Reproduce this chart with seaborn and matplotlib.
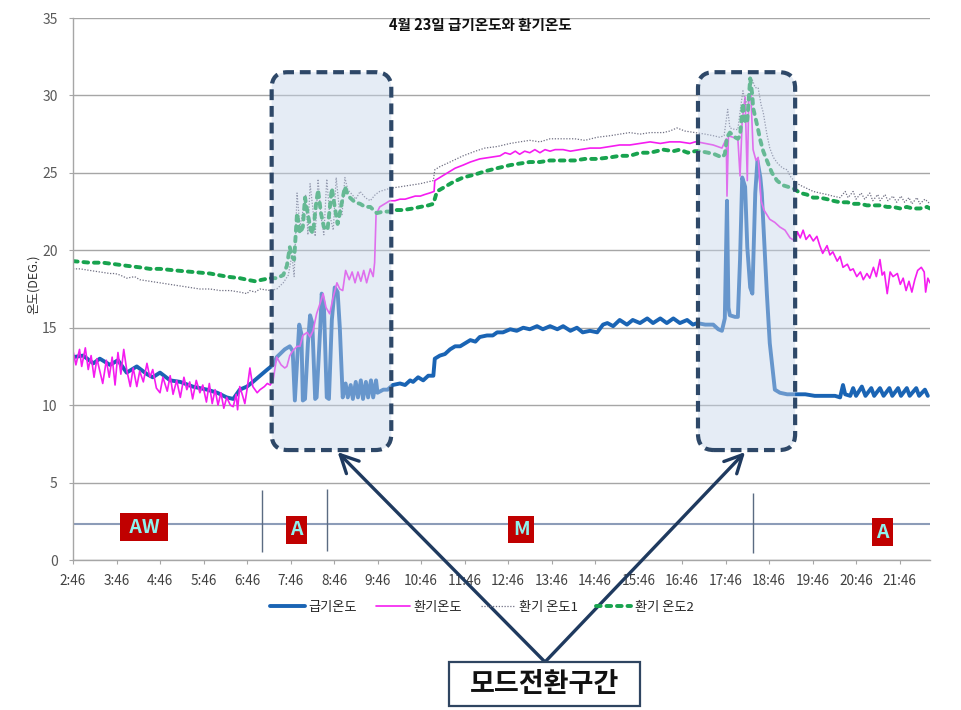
import matplotlib
matplotlib.use("Agg")
import matplotlib.pyplot as plt
import seaborn as sns
import pandas as pd
from matplotlib.patches import FancyBboxPatch, Rectangle
from matplotlib.transforms import IdentityTransform
from matplotlib.colors import to_rgba

# ---------------- data (time = minutes of the day, value = deg C) ----------------
supply = [(166,13.1),(180,13.2),(194,12.7),(203,13.0),(217,12.6),(228,12.9),(240,12.1),(254,12.5),(268,12.0),(276,11.8),(286,12.1),(300,11.6),(314,11.5),(331,11.2),(351,11.0),(365,10.8),(378,10.5),(387,10.4),(396,11.0),(406,11.2),(414,11.5),(424,11.9),(434,12.3),(442,12.6),
          (447,13.1),(458,13.6),(465,13.8),(469,13.5),(472,10.3),(478,15.2),(481,14.6),(483,10.3),(486,10.4),(490,14.0),(493,15.8),(496,15.3),(500,10.4),(502,10.5),(507,15.0),(509,17.2),(512,16.5),(516,10.5),(519,10.4),(523,15.5),(527,17.6),(531,17.3),(534,15.0),(538,10.5),(542,11.4),(545,10.5),(549,11.3),(552,10.4),(556,11.5),(559,10.5),(563,11.6),(566,10.4),(570,11.5),(573,10.5),(577,11.6),(580,10.5),(584,11.6),(586,10.8),(594,11.0),(600,11.0),(607,11.3),
          (617,11.4),(624,11.3),(631,11.6),(635,11.5),(642,11.8),(649,11.6),(656,11.9),(663,11.9),(665,13.0),(672,13.2),(679,13.3),(686,13.6),(693,13.8),(700,13.8),(707,14.0),(714,14.2),(721,14.1),(727,14.4),(737,14.5),(745,14.5),(751,14.7),(759,14.7),(769,14.9),(778,14.8),(787,15.0),(796,14.9),(806,15.1),(814,14.9),(824,15.1),(834,14.9),(842,15.1),(852,14.8),(861,15.0),(869,14.7),(879,14.8),(889,14.7),(897,15.2),(903,15.3),(911,15.1),(920,15.5),(930,15.2),(938,15.5),(948,15.3),(958,15.6),(966,15.3),(976,15.6),(985,15.3),(994,15.6),(1003,15.3),(1013,15.5),(1021,15.2),
          (1027,15.3),(1038,15.2),(1049,15.2),(1056,14.9),(1061,14.8),(1065,15.6),(1068,23.2),(1070,16.3),(1072,15.8),(1079,15.7),(1083,15.7),(1086,19.4),(1089,24.7),(1093,24.1),(1096,20.2),(1100,17.6),(1103,17.2),(1107,23.7),(1110,25.8),(1114,24.7),(1116,23.7),(1120,20.0),(1123,17.2),(1127,14.0),(1134,11.0),(1141,10.8),(1151,10.7),
          (1162,10.7),(1176,10.7),(1189,10.6),(1203,10.6),(1217,10.6),(1224,10.5),(1228,11.3),(1231,10.7),(1238,10.6),(1242,11.1),(1246,10.6),(1254,11.2),(1259,10.6),(1267,11.1),(1271,10.6),(1279,11.1),(1284,10.6),(1292,11.1),(1296,10.6),(1304,11.1),(1308,10.6),(1316,11.1),(1320,10.6),(1329,11.1),(1333,10.6),(1341,11.0),(1345,10.6)]

return_air = [(166,13.5),(170,12.6),(175,13.6),(178,12.5),(183,13.7),(187,12.3),(191,13.2),(195,11.8),(199,13.0),(203,12.2),(207,11.4),(212,12.9),(216,11.8),(220,13.1),(224,11.3),(228,13.4),(232,12.0),(236,13.6),(240,12.3),(245,11.2),(249,12.4),(254,11.2),(258,12.2),(263,11.5),(268,12.7),(272,11.8),(276,12.3),(281,11.1),(286,10.8),(290,11.8),(296,10.9),(300,11.9),(304,10.7),(309,11.6),(314,10.5),(319,11.8),(323,11.0),(327,11.5),(331,10.4),(336,11.6),(341,10.8),(345,11.3),(350,10.2),(354,11.4),(358,10.1),(362,11.0),(366,10.0),(370,10.8),(374,9.8),(378,10.5),(383,10.0),(387,9.9),(391,10.7),(393,9.7),(396,11.2),(400,10.6),(403,10.1),(406,11.0),(410,12.4),(414,11.2),(420,10.8),(424,11.0),(430,11.2),(434,11.4),(438,11.3),(442,11.6),
              (447,13.1),(453,12.6),(458,12.4),(461,12.5),(465,13.2),(469,13.5),(475,13.8),(479,13.8),(483,14.5),(489,14.7),(493,14.4),(497,14.8),(502,15.9),(507,16.6),(511,17.2),(515,16.3),(520,15.9),(525,17.0),(530,17.9),(534,17.5),(538,17.4),(542,18.7),(547,18.1),(551,18.6),(555,17.9),(559,18.6),(563,18.0),(567,18.7),(571,17.9),(576,18.8),(580,18.3),(582,19.2),(584,22.3),(589,22.8),(596,23.0),(603,23.2),
              (610,23.2),(617,23.3),(624,23.3),(631,23.4),(638,23.5),(645,23.5),(651,23.6),(658,23.7),(664,23.8),(665,24.5),(672,24.7),(679,24.9),(686,25.1),(693,25.3),(704,25.5),(714,25.7),(727,25.9),(741,26.0),(755,26.1),(762,26.3),(769,26.2),(776,26.4),(782,26.2),(789,26.4),(796,26.3),(803,26.5),(810,26.3),(817,26.5),(824,26.4),(831,26.5),(842,26.5),(852,26.4),(865,26.5),(879,26.6),(893,26.6),(907,26.7),(920,26.8),(934,26.8),(948,26.9),(962,27.0),(976,26.9),(989,27.0),(1003,27.0),(1017,26.9),(1024,27.0),
              (1027,27.0),(1038,26.9),(1049,26.8),(1061,26.6),(1067,27.2),(1068,23.5),(1070,27.4),(1076,27.3),(1083,27.2),(1086,24.8),(1089,28.4),(1093,29.9),(1096,24.5),(1098,29.8),(1101,30.0),(1104,26.5),(1108,25.8),(1111,26.0),(1115,23.2),(1119,22.6),(1123,22.3),(1127,22.0),(1134,21.8),(1141,21.5),(1148,21.3),(1155,20.8),(1162,20.6),
              (1165,21.2),(1169,20.8),(1173,21.3),(1177,20.7),(1182,21.0),(1187,20.6),(1192,20.9),(1196,20.3),(1200,19.8),(1206,20.3),(1210,19.7),(1214,19.9),(1220,19.3),(1224,19.6),(1228,18.9),(1234,19.1),(1238,18.7),(1242,18.8),(1247,18.3),(1252,18.6),(1256,18.1),(1261,18.5),(1265,18.2),(1270,18.9),(1274,18.3),(1279,19.4),(1282,18.4),(1285,18.6),(1289,17.2),(1293,18.6),(1297,18.3),(1303,18.5),(1307,17.8),(1311,18.2),(1315,17.4),(1319,18.0),(1323,17.3),(1327,18.1),(1331,18.7),(1336,18.9),(1340,18.6),(1342,17.3),(1345,18.2),(1348,17.9)]

return_air1 = [(166,18.8),(176,18.8),(189,18.7),(203,18.6),(217,18.5),(224,18.5),(231,18.4),(240,18.2),(251,18.3),(258,18.1),(272,18.0),(286,17.9),(300,17.8),(314,17.7),(327,17.6),(341,17.5),(355,17.5),(369,17.4),(383,17.4),(396,17.3),(406,17.2),(410,17.4),(417,17.3),(424,17.5),(438,17.4),
               (447,17.5),(456,17.9),(463,18.4),(468,19.7),(471,18.3),(475,23.7),(479,21.5),(483,22.5),(487,23.6),(490,21.0),(493,24.3),(497,22.6),(500,20.9),(504,24.6),(508,22.2),(512,21.0),(516,24.6),(520,22.3),(525,21.3),(529,24.7),(533,22.8),(537,22.3),(541,24.7),(545,23.9),(551,23.6),(556,23.3),(562,23.8),(569,23.4),(576,23.2),(583,23.6),(589,23.8),(596,23.9),(603,24.0),
               (617,24.1),(631,24.2),(645,24.3),(663,24.5),(665,25.2),(672,25.4),(686,25.7),(704,26.1),(721,26.4),(734,26.6),(751,26.7),(769,26.9),(782,27.0),(796,27.1),(810,27.0),(824,27.2),(842,27.2),(858,27.2),(872,27.1),(889,27.3),(907,27.4),(920,27.5),(934,27.6),(948,27.5),(962,27.6),(980,27.6),(989,27.7),(999,27.9),(1010,27.7),(1024,27.6),
               (1038,27.5),(1049,27.4),(1058,27.3),(1064,27.4),(1069,29.1),(1072,27.9),(1079,27.8),(1083,27.8),(1087,29.3),(1090,30.3),(1094,29.4),(1098,30.0),(1103,31.0),(1107,30.5),(1111,30.5),(1115,29.4),(1118,28.9),(1123,27.5),(1127,26.6),(1132,26.0),(1138,25.6),(1145,25.3),(1151,25.2),(1155,24.8),(1162,24.4),
               (1169,24.2),(1178,24.0),(1187,23.8),(1196,23.7),(1206,23.6),(1214,23.5),(1224,23.4),(1231,23.8),(1235,23.4),(1242,23.8),(1246,23.3),(1253,23.7),(1258,23.3),(1265,23.7),(1269,23.2),(1276,23.6),(1279,23.2),(1286,23.6),(1290,23.2),(1297,23.5),(1302,23.1),(1308,23.5),(1313,23.1),(1319,23.4),(1323,23.0),(1330,23.4),(1334,23.0),(1341,23.3),(1348,23.0)]

return_air2 = [(166,19.3),(189,19.2),(207,19.2),(224,19.1),(240,19.0),(258,18.9),(272,18.8),(286,18.8),(307,18.7),(331,18.6),(355,18.5),(378,18.3),(396,18.2),(406,18.1),(417,18.0),(427,18.1),(438,18.2),
               (447,18.2),(456,18.4),(461,19.0),(465,20.2),(468,19.6),(471,19.4),(475,22.4),(479,21.1),(483,21.5),(486,23.4),(490,22.3),(494,21.3),(497,21.1),(501,22.9),(504,23.9),(508,22.4),(512,21.5),(517,21.3),(523,24.0),(527,22.8),(531,21.7),(534,22.4),(541,24.1),(545,23.6),(548,23.4),(555,23.1),(562,23.0),(569,22.8),(576,22.8),(585,22.4),(594,22.5),(603,22.5),
               (610,22.6),(621,22.6),(635,22.7),(645,22.8),(656,22.9),(663,23.0),(668,23.8),(679,24.1),(690,24.4),(704,24.7),(721,24.9),(734,25.1),(751,25.3),(769,25.5),(782,25.6),(796,25.7),(810,25.7),(824,25.8),(842,25.8),(858,25.8),(872,25.9),(889,25.9),(907,26.0),(920,26.1),(934,26.1),(948,26.3),(962,26.3),(980,26.5),(994,26.4),(1003,26.5),(1014,26.3),(1024,26.4),
               (1031,26.4),(1042,26.3),(1051,26.2),(1061,26.0),(1065,26.2),(1068,27.3),(1072,27.6),(1079,27.3),(1083,27.2),(1086,27.4),(1090,29.5),(1093,28.2),(1096,28.4),(1100,31.1),(1103,30.0),(1104,29.2),(1110,28.0),(1114,27.1),(1118,26.4),(1123,25.8),(1130,25.0),(1137,24.5),(1145,24.2),(1152,24.1),(1159,24.0),
               (1169,23.7),(1178,23.6),(1187,23.4),(1196,23.4),(1206,23.3),(1214,23.2),(1224,23.1),(1234,23.1),(1242,23.0),(1252,23.0),(1261,22.9),(1270,22.9),(1279,22.9),(1289,22.8),(1297,22.8),(1307,22.7),(1316,22.8),(1324,22.7),(1334,22.7),(1344,22.8),(1348,22.7)]

series_names = ["급기온도", "환기온도", "환기 온도1", "환기 온도2"]
tick_minutes = [166 + 60 * k for k in range(20)]
tick_labels = [f"{2 + k}:46" for k in range(20)]

mode_names = ["AW", "A", "M", "A"]
mode_times = [264, 474, 784, 1282]
mode_values = [2.13, 1.94, 1.97, 1.80]
mode_split_times = [427, 516, 1104]
mode_level = 2.32

transition_windows = [(440, 605), (1028, 1162)]
transition_range = (7.1, 31.5)
arrow_targets = [(531, 6.97), (1093, 6.97)]

title = "4월 23일 급기온도와 환기온도"
ylabel = "온도(DEG.)"
callout = "모드전환구간"

# ---------------- style ----------------
sns.set_style("white")
plt.rcParams['font.family'] = ['Noto Sans CJK KR', 'DejaVu Sans']
plt.rcParams['axes.unicode_minus'] = False

W, H = 961, 710
fig = plt.figure(figsize=(W / 100, H / 100), dpi=100)
ax = fig.add_axes([73 / W, 150 / H, 857 / W, 542 / H])

styles = [
    dict(color="#1a64b4", linewidth=2.8),
    dict(color="#f51cf0", linewidth=1.2),
    dict(color="#6f6f82", linewidth=0.9, linestyle=(0, (1.0, 1.3))),
    dict(color="#18a34f", linewidth=2.8, linestyle=(0, (1.2, 1.5)), dash_capstyle="round"),
]
for name, data, st in zip(series_names, [supply, return_air, return_air1, return_air2], styles):
    df = pd.DataFrame(data, columns=["time", "temp"])
    sns.lineplot(data=df, x="time", y="temp", ax=ax, label=name, estimator=None, sort=False, **st)

ax.set_xlim(166, 1348)
ax.set_ylim(0, 35)
ax.set_yticks(range(0, 36, 5))
ax.set_xticks(tick_minutes)
ax.set_xticklabels(tick_labels)
ax.set_xlabel("")
ax.set_ylabel("")
ax.grid(axis="y", color="#a6a6a6", linewidth=1.0)
ax.grid(axis="x", visible=False)
ax.set_axisbelow(True)
for s in ["top", "right"]:
    ax.spines[s].set_visible(False)
for s in ["left", "bottom"]:
    ax.spines[s].set_color("#a6a6a6")
    ax.spines[s].set_linewidth(1.0)
ax.tick_params(axis="x", length=3, color="#a6a6a6", direction="out", labelsize=9.8, labelcolor="#404040", pad=7, bottom=True)
ax.tick_params(axis="y", length=3, color="#a6a6a6", direction="out", labelsize=10, labelcolor="#595959", pad=8, left=True)

handles, labels = ax.get_legend_handles_labels()
if ax.get_legend() is not None:
    ax.get_legend().remove()

# mode strip
ax.axhline(mode_level, color="#8c9cb8", linewidth=1.5, zorder=1.5)
ax.vlines(mode_split_times, [0.5, 0.6, 0.45], [4.5, 4.6, 4.3], color="#5b6b82", linewidth=1.0, zorder=3)
for nm, t, v in zip(mode_names, mode_times, mode_values):
    txt = f" {nm} " if len(nm) > 1 else nm
    ax.text(t, v, txt, ha="center", va="center", fontsize=14, fontweight="bold", color="#8ef2ee",
            bbox=dict(boxstyle="square,pad=0.22", facecolor="#c00000", edgecolor="none"), zorder=4)

# transition boxes (rounded, dashed)
for (t0, t1) in transition_windows:
    x0, y0 = ax.transData.transform((t0, transition_range[0]))
    x1, y1 = ax.transData.transform((t1, transition_range[1]))
    p = FancyBboxPatch((x0, y0), x1 - x0, y1 - y0, boxstyle="round,pad=0,rounding_size=16",
                       transform=IdentityTransform(), facecolor=to_rgba("#c6d5ea", 0.45),
                       edgecolor="#2e4868", linewidth=3.0, linestyle=(0, (2.6, 1.4)), zorder=5, clip_on=False)
    ax.add_patch(p)

# arrows to callout
start = (545 / W, 1 - 662 / H)
for tx, ty in arrow_targets:
    ax.annotate("", xy=(tx, ty), xycoords="data", xytext=start, textcoords="figure fraction",
                arrowprops=dict(arrowstyle="->", color="#1f3a5f", lw=2.4, mutation_scale=32,
                                shrinkA=0, shrinkB=0), annotation_clip=False, zorder=12)

box = Rectangle((449, H - 706), 191, 44, transform=IdentityTransform(), facecolor="white",
                edgecolor="#2f4561", linewidth=1.6, zorder=12)
fig.add_artist(box)
fig.text(544.5 / W, (H - 684) / H, callout, ha="center", va="center", fontsize=19.5, fontweight="bold",
         color="#111111", zorder=13)

fig.text(0.5, 1 - 25 / H, title, ha="center", va="center", fontsize=10.5, fontweight="bold", color="#111111")
fig.text(33 / W, 1 - 284 / H, ylabel, rotation=90, ha="center", va="center", fontsize=9, color="#333333")

fig.legend(handles, labels, loc="center", bbox_to_anchor=(482 / W, 1 - 607 / H), ncol=4, frameon=False,
           fontsize=9.5, handlelength=2.6, handletextpad=0.3, columnspacing=1.4)

fig.savefig("out.png", dpi=100)
